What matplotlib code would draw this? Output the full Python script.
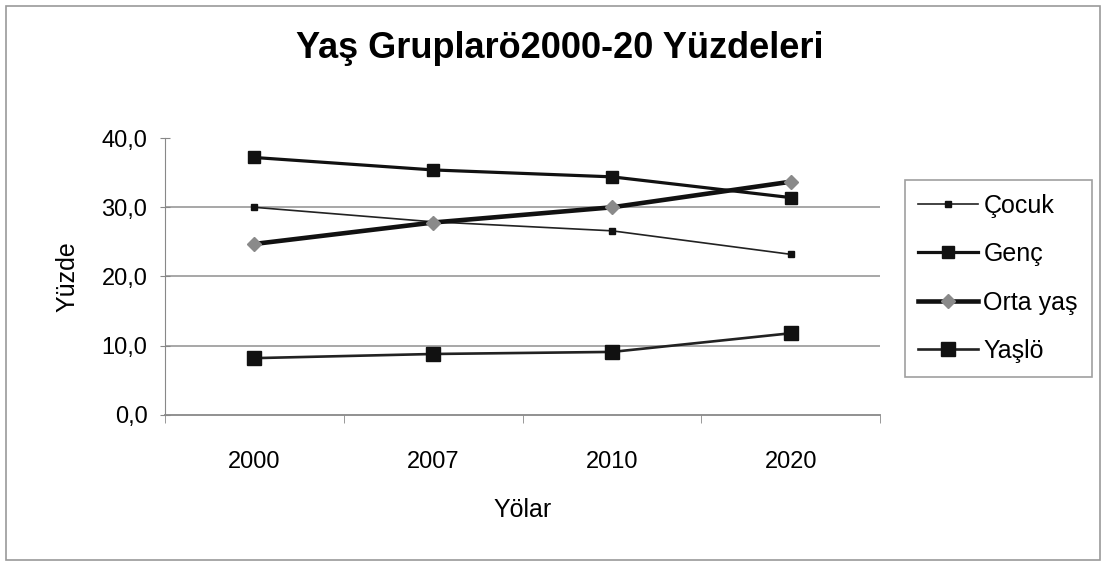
import matplotlib.pyplot as plt
import numpy as np
from matplotlib.patches import Rectangle

plt.rcParams['font.family'] = ['Liberation Sans', 'DejaVu Sans']

years = ["2000", "2007", "2010", "2020"]
cocuk = [30.0, 27.9, 26.6, 23.2]
genc = [37.2, 35.4, 34.4, 31.4]
orta = [24.7, 27.8, 30.0, 33.7]
yasli = [8.2, 8.8, 9.1, 11.8]
series_names = ["Çocuk", "Genç", "Orta yaş", "Yaşlö"]

fig = plt.figure(figsize=(11.06, 5.66), dpi=100)
fig.patches.append(Rectangle((0.005, 0.01), 0.99, 0.98, transform=fig.transFigure,
                             fill=False, edgecolor='#9a9a9a', linewidth=1.2))
ax = fig.add_axes([0.149, 0.267, 0.647, 0.489])

x = np.arange(len(years))
ax.plot(x, cocuk, color='#222222', linewidth=1.2, marker='s', markersize=5,
        markerfacecolor='#111111', markeredgecolor='#111111', label=series_names[0], zorder=3)
ax.plot(x, genc, color='#111111', linewidth=2.3, marker='s', markersize=8,
        markerfacecolor='#111111', markeredgecolor='#111111', label=series_names[1], zorder=4)
ax.plot(x, orta, color='#111111', linewidth=3.3, marker='D', markersize=7,
        markerfacecolor='#8a8a8a', markeredgecolor='#8a8a8a', label=series_names[2], zorder=5)
ax.plot(x, yasli, color='#222222', linewidth=1.9, marker='s', markersize=10,
        markerfacecolor='#111111', markeredgecolor='#111111', label=series_names[3], zorder=3)

ax.set_xlim(-0.5, len(years) - 0.5)
ax.set_ylim(0, 40)
ax.set_yticks([0, 10, 20, 30, 40])
ax.set_yticklabels(["0,0", "10,0", "20,0", "30,0", "40,0"], fontsize=17)
ax.set_xticks(x)
ax.set_xticklabels(years, fontsize=17)
ax.set_xticks(np.arange(-0.5, len(years)), minor=True)
ax.tick_params(axis='x', which='major', length=0, pad=26)
ax.tick_params(axis='x', which='minor', length=6, color='#888888', direction='out')
ax.tick_params(axis='y', length=7, color='#888888', direction='inout', pad=9)

for v in [10, 20, 30]:
    ax.axhline(v, color='#a0a0a0', linewidth=1.3, zorder=1)

for s in ['top', 'right']:
    ax.spines[s].set_visible(False)
ax.spines['left'].set_color('#888888')
ax.spines['bottom'].set_color('#888888')
ax.spines['bottom'].set_linewidth(1.3)

ax.set_xlabel("Yölar", fontsize=18, labelpad=18)
ax.set_ylabel("Yüzde", fontsize=18, labelpad=16)
fig.text(0.506, 0.915, "Yaş Gruplarö2000-20 Yüzdeleri", ha='center', va='center',
         fontsize=26, fontweight='bold')

leg = ax.legend(loc='upper left', bbox_to_anchor=(0.818, 0.682), bbox_transform=fig.transFigure,
                fontsize=18, frameon=True, fancybox=False, edgecolor='#888888',
                handlelength=2.4, handletextpad=0.2, borderpad=0.55, labelspacing=0.98,
                borderaxespad=0)
leg.get_frame().set_linewidth(1.2)

fig.savefig("out.png", dpi=100)
